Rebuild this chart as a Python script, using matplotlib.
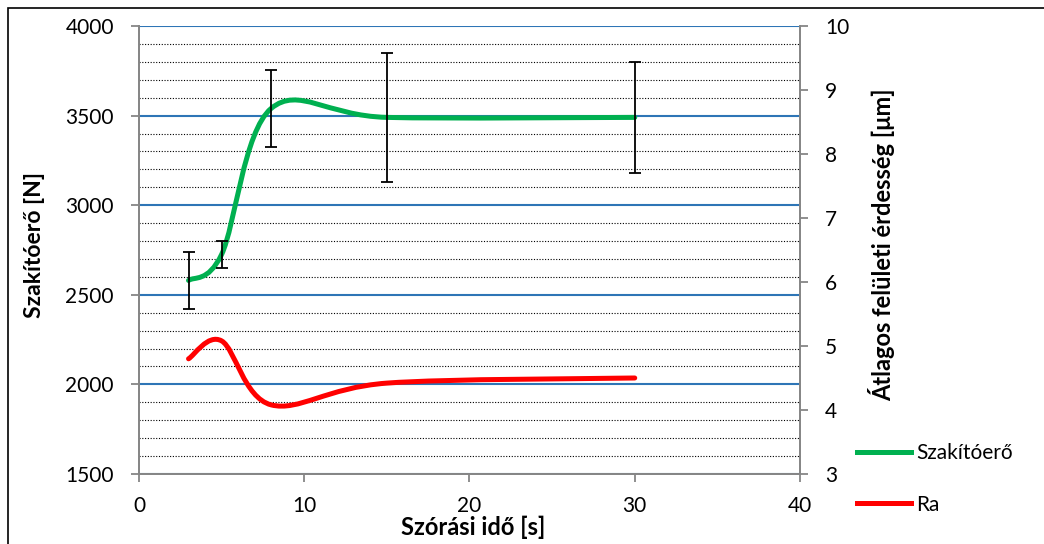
import numpy as np
import matplotlib
matplotlib.use("Agg")
import matplotlib.pyplot as plt
from matplotlib.path import Path
from matplotlib.patches import PathPatch, Rectangle
from matplotlib.lines import Line2D

plt.rcParams['font.family'] = ['Lato', 'DejaVu Sans']

# adatok
ido = [3, 5, 8, 15, 30]                      # Szórási idő [s]
szakitoero = [2580, 2725, 3540, 3490, 3490]   # [N]
szakitoero_hiba = [160, 75, 215, 362, 310]
ra = [4.8, 5.08, 4.08, 4.42, 4.5]             # [µm]

zold = '#00B050'
piros = '#FF0000'
szurke = '#868686'
kek = '#2E75B6'


def excel_smooth(ax, xs, ys, color, lw):
    # Excel-szerű simított vonal: Bezier-görbe a pontokon át
    p = list(zip(xs, ys))
    n = len(p)
    verts = [p[0]]
    codes = [Path.MOVETO]
    for i in range(n - 1):
        p0 = p[i - 1] if i > 0 else p[i]
        p1 = p[i]
        p2 = p[i + 1]
        p3 = p[i + 2] if i + 2 < n else p[i + 1]
        c1 = (p1[0] + (p2[0] - p0[0]) / 6, p1[1] + (p2[1] - p0[1]) / 6)
        c2 = (p2[0] - (p3[0] - p1[0]) / 6, p2[1] - (p3[1] - p1[1]) / 6)
        verts += [c1, c2, p2]
        codes += [Path.CURVE4] * 3
    patch = PathPatch(Path(verts, codes), facecolor='none', edgecolor=color,
                      lw=lw, capstyle='round', joinstyle='round', zorder=5)
    ax.add_patch(patch)


fig = plt.figure(figsize=(10.44, 5.44), dpi=100)
ax = fig.add_axes([0.1331, 0.1287, 0.6332, 0.8235])
ax2 = ax.twinx()

# rácsvonalak
ax.set_xlim(0, 40)
ax.set_ylim(1500, 4000)
ax.set_xticks([0, 10, 20, 30, 40])
ax.set_yticks(np.arange(1500, 4001, 500))
ax.set_yticks(np.arange(1500, 4001, 100), minor=True)
ax.grid(True, which='major', axis='y', color=kek, lw=1.5, zorder=1)
ax.grid(True, which='minor', axis='y', color='black', lw=0.8, ls=(0, (1, 1.5)), zorder=0)
ax.tick_params(axis='y', which='minor', length=0)
ax.set_axisbelow(True)

excel_smooth(ax, ido, szakitoero, zold, 3.6)
ax.errorbar(ido, szakitoero, yerr=szakitoero_hiba, fmt='none', ecolor='black',
            elinewidth=1.3, capsize=4.5, capthick=1.3, zorder=6)

ax2.set_ylim(3, 10)
ax2.set_yticks(range(3, 11))
excel_smooth(ax2, ido, ra, piros, 3.6)

for a in (ax, ax2):
    a.spines['top'].set_visible(False)
    for s in ('left', 'right', 'bottom'):
        a.spines[s].set_color(szurke)
        a.spines[s].set_linewidth(1.3)
    a.tick_params(which='major', length=6, width=1.3, color=szurke,
                  labelsize=15, pad=12)
ax.tick_params(axis='x', pad=10)

ax.set_ylabel('Szakítóerő [N]', fontsize=16.5, fontweight='bold')
ax.yaxis.set_label_coords(-0.142, 0.511)
ax.set_xlabel('Szórási idő [s]', fontsize=17, fontweight='bold')
ax.xaxis.set_label_coords(0.505, -0.094)
ax2.set_ylabel('Átlagos felületi érdesség [μm]', fontsize=17, fontweight='bold')
ax2.yaxis.set_label_coords(1.103, 0.511)

handles = [Line2D([], [], color=zold, lw=3.6),
           Line2D([], [], color=piros, lw=3.6)]
fig.legend(handles, ['Szakítóerő', 'Ra'], loc='upper left',
           bbox_to_anchor=(0.821, 0.186), frameon=False, fontsize=15,
           handlelength=2.6, handletextpad=0.25, labelspacing=1.53,
           borderpad=0, borderaxespad=0)

fig.patches.append(Rectangle((0.0077, -0.02), 1.1, 1.005, transform=fig.transFigure,
                             fill=False, edgecolor='black', lw=1.2))

fig.savefig('out.png', dpi=100)
